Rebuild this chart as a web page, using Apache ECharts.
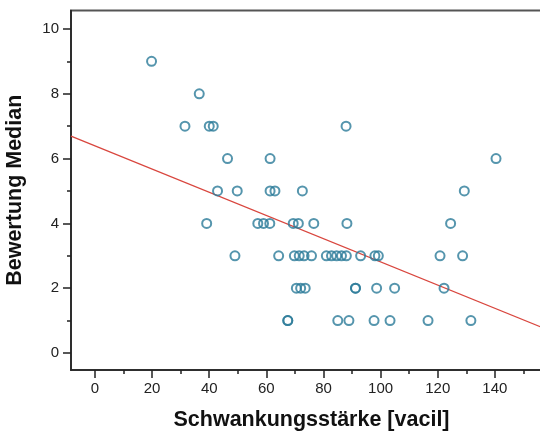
<!DOCTYPE html>
<html>
<head>
<meta charset="utf-8">
<script src="https://cdn.jsdelivr.net/npm/echarts@6/dist/echarts.min.js"></script>
<style>
html,body{margin:0;padding:0;background:#fff;}
#chart{width:540px;height:436px;}
</style>
</head>
<body>
<div id="chart"></div>
<script>
// Data
var xValues = [
  19.8,
  36.5,
  31.5, 40.0, 41.4, 87.9,
  46.4, 61.3, 140.4,
  42.9, 49.8, 61.3, 63.0, 72.6, 129.3,
  39.1, 57.0, 59.0, 61.2, 69.4, 71.2, 76.6, 88.2, 124.5,
  49.0, 64.3, 69.8, 71.5, 73.2, 75.8, 81.0, 82.8, 84.6, 86.3, 88.0, 93.0, 98.0, 99.2, 120.8, 128.7,
  70.5, 72.0, 73.6, 91.2, 91.2, 98.6, 104.9, 122.2,
  67.5, 67.5, 85.0, 88.9, 97.7, 103.3, 116.6, 131.6
];
var yValues = [
  9,
  8,
  7, 7, 7, 7,
  6, 6, 6,
  5, 5, 5, 5, 5, 5,
  4, 4, 4, 4, 4, 4, 4, 4, 4,
  3, 3, 3, 3, 3, 3, 3, 3, 3, 3, 3, 3, 3, 3, 3, 3,
  2, 2, 2, 2, 2, 2, 2, 2,
  1, 1, 1, 1, 1, 1, 1, 1
];
var xMajorTicks = [0, 20, 40, 60, 80, 100, 120, 140];
var xMinorTicks = [10, 30, 50, 70, 90, 110, 130, 150];
var yMajorTicks = [0, 2, 4, 6, 8, 10];
var yMinorTicks = [1, 3, 5, 7, 9];
var fitIntercept = 6.39;
var fitSlope = -0.0358;
var xTitle = 'Schwankungsstärke [vacil]';
var yTitle = 'Bewertung Median';

var X_MIN = -8.4, X_MAX = 160;
var Y_MIN = -0.525, Y_MAX = 10.57;

var points = xValues.map(function (x, i) { return [x, yValues[i]]; });
var fitLine = [
  [X_MIN, fitIntercept + fitSlope * X_MIN],
  [X_MAX, fitIntercept + fitSlope * X_MAX]
];

var axisColor = '#222';
var font = 'Liberation Sans, Arial, sans-serif';

var chart = echarts.init(document.getElementById('chart'), null, {renderer: 'canvas'});
chart.setOption({
  backgroundColor: '#fff',
  animation: false,
  grid: {
    left: 71, top: 10.5, right: -12, bottom: 66,
    containLabel: false, outerBoundsMode: 'none',
    show: true, borderColor: '#555', borderWidth: 2, backgroundColor: '#fff'
  },
  xAxis: [{
    type: 'value', min: X_MIN, max: X_MAX,
    name: xTitle, nameLocation: 'middle', nameGap: 39,
    nameTextStyle: {fontFamily: font, fontWeight: 'bold', fontSize: 21.5, color: '#111'},
    axisLine: {show: true, onZero: false, lineStyle: {color: axisColor, width: 1.5}},
    axisTick: {show: true, inside: false, length: 8, customValues: xMajorTicks, lineStyle: {color: axisColor, width: 1.5}},
    axisLabel: {show: true, customValues: xMajorTicks, margin: 11, fontFamily: font, fontSize: 15, color: axisColor},
    splitLine: {show: false}
  }, {
    type: 'value', min: X_MIN, max: X_MAX, position: 'bottom',
    axisLine: {show: false, onZero: false},
    axisTick: {show: true, length: 4, customValues: xMinorTicks, lineStyle: {color: axisColor, width: 1.5}},
    axisLabel: {show: false},
    splitLine: {show: false}
  }],
  yAxis: [{
    type: 'value', min: Y_MIN, max: Y_MAX,
    name: yTitle, nameLocation: 'middle', nameGap: 45,
    nameTextStyle: {fontFamily: font, fontWeight: 'bold', fontSize: 21.5, color: '#111'},
    axisLine: {show: true, onZero: false, lineStyle: {color: axisColor, width: 1.5}},
    axisTick: {show: true, inside: false, length: 8, customValues: yMajorTicks, lineStyle: {color: axisColor, width: 1.5}},
    axisLabel: {show: true, customValues: yMajorTicks, margin: 12, fontFamily: font, fontSize: 15, color: axisColor},
    splitLine: {show: false}
  }, {
    type: 'value', min: Y_MIN, max: Y_MAX, position: 'left',
    axisLine: {show: false, onZero: false},
    axisTick: {show: true, length: 4, customValues: yMinorTicks, lineStyle: {color: axisColor, width: 1.5}},
    axisLabel: {show: false},
    splitLine: {show: false}
  }],
  series: [{
    type: 'line',
    xAxisIndex: 0, yAxisIndex: 0,
    data: fitLine,
    showSymbol: false,
    lineStyle: {color: '#d9463e', width: 1.3},
    silent: true,
    z: 2
  }, {
    type: 'scatter',
    xAxisIndex: 0, yAxisIndex: 0,
    data: points,
    symbol: 'circle',
    symbolSize: 9,
    itemStyle: {color: 'rgba(0,0,0,0)', borderColor: '#2a7a98', borderWidth: 2},
    z: 3
  }]
});
</script>
</body>
</html>
